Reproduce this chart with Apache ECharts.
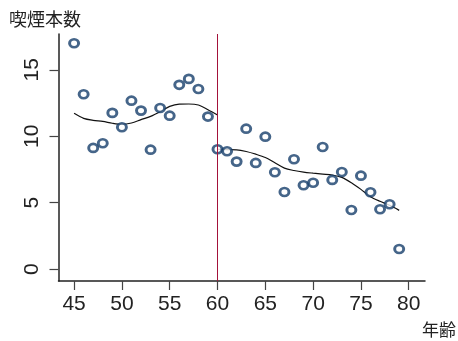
<!DOCTYPE html>
<html><head><meta charset="utf-8">
<script src="https://cdn.jsdelivr.net/npm/echarts@6/dist/echarts.min.js"></script>
<style>html,body{margin:0;padding:0;background:#fff}#c{width:458px;height:341px}</style>
</head><body><div id="c"></div>
<script>
const ages = [45,46,47,48,49,50,51,52,53,54,55,56,57,58,59,60,61,62,63,64,65,66,67,68,69,70,71,72,73,74,75,76,77,78,79];
const cigs = [17.0,13.16,9.12,9.47,11.76,10.68,12.68,11.93,8.99,12.13,11.55,13.87,14.32,13.56,11.48,9.02,8.87,8.09,10.57,7.99,9.97,7.29,5.80,8.27,6.31,6.50,9.19,6.71,7.31,4.45,7.03,5.78,4.50,4.88,1.51];
const leftAges = [45,46,47,48,49,50,51,52,53,54,55,56,57,58,59,60];
const leftFit = [11.73,11.35,11.2,11.12,10.98,10.9,11.0,11.25,11.5,11.85,12.25,12.42,12.43,12.35,12.0,11.6];
const rightAges = [60,61,62,63,64,65,66,67,68,69,70,71,72,73,74,75,76,77,78,79];
const rightFit = [9.02,9.0,8.98,8.85,8.65,8.4,8.0,7.6,7.42,7.3,7.22,7.15,7.08,6.9,6.5,6.0,5.45,5.1,4.8,4.42];
const xTicks = [45,50,55,60,65,70,75,80];
const yTicks = [0,5,10,15];
const cutoff = 60;
const xTitle = '年齢';
const yTitle = '喫煙本数';

const chart = echarts.init(document.getElementById('c'), null, {renderer:'canvas'});
const zip = (a,b)=>a.map((v,i)=>[v,b[i]]);
chart.setOption({
  animation:false,
  backgroundColor:'#fff',
  grid:{left:58.5,right:33,top:34,bottom:60,containLabel:false},
  graphic:[
    {type:'text',left:9,top:10,style:{text:yTitle,font:'18px "Noto Sans CJK JP"',fill:'#222'}},
    {type:'text',left:422,top:321,style:{text:xTitle,font:'17px "Noto Sans CJK JP"',fill:'#222'}}
  ],
  xAxis:{type:'value',min:43.37,max:81.7,
    splitLine:{show:false},
    axisLine:{show:true,onZero:false,lineStyle:{color:'#222',width:1.5}},
    axisTick:{show:true,length:9,customValues:xTicks,lineStyle:{color:'#444',width:1.2}},
    axisLabel:{customValues:xTicks,margin:13,fontSize:21,color:'#222',fontFamily:'Liberation Sans'}
  },
  yAxis:{type:'value',min:-0.9,max:17.7,
    splitLine:{show:false},
    axisLine:{show:true,onZero:false,lineStyle:{color:'#222',width:1.5}},
    axisTick:{show:true,length:9,customValues:yTicks,lineStyle:{color:'#444',width:1.2}},
    axisLabel:{customValues:yTicks,rotate:90,margin:16,fontSize:21,color:'#222',fontFamily:'Liberation Sans'}
  },
  series:[
    {type:'line',data:zip(leftAges,leftFit),showSymbol:false,smooth:0.3,lineStyle:{color:'#111',width:1.2},z:2,
     markLine:{silent:true,symbol:'none',label:{show:false},lineStyle:{color:'#a3123a',width:1,type:'solid'},data:[{xAxis:cutoff}]}},
    {type:'line',data:zip(rightAges,rightFit),showSymbol:false,smooth:0.3,lineStyle:{color:'#111',width:1.2},z:2},
    {type:'scatter',data:zip(ages,cigs),symbol:'circle',symbolSize:[9,8],
     itemStyle:{color:'#fff',borderColor:'#163f6b',borderWidth:2.8},z:3}
  ]
});
</script></body></html>
